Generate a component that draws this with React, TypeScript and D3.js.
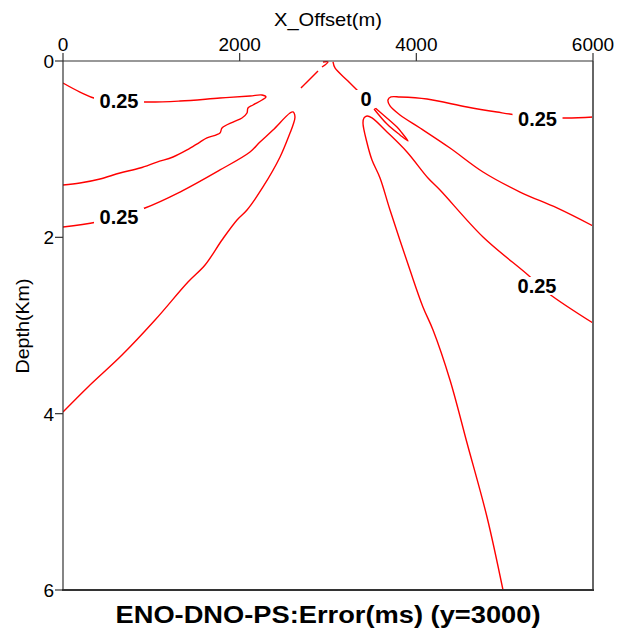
import React from "react";
import * as d3 from "d3";

// ---- data (x offset in m, depth in km) ----
const xTicks = [0, 2000, 4000, 6000];
const yTicks = [0, 2, 4, 6];

const contourUpperLeft: [number, number][] = [
  [0, 0.25], [192, 0.352], [385, 0.431], [928, 0.465], [1325, 0.454], [1777, 0.42],
  [2117, 0.397], [2253, 0.386], [2298, 0.408], [2253, 0.442], [2151, 0.499], [2094, 0.533],
  [2083, 0.59], [2026, 0.646], [1925, 0.692], [1800, 0.76], [1777, 0.817], [1630, 0.873],
  [1551, 0.919], [1404, 1.009], [1245, 1.089], [1064, 1.146], [872, 1.214], [645, 1.27],
  [419, 1.338], [192, 1.384], [0, 1.406],
];

const contourLowerLeft: [number, number][] = [
  [0, 1.883], [385, 1.826], [928, 1.667], [1325, 1.486], [1777, 1.236], [2117, 1.032],
  [2230, 0.919], [2377, 0.783], [2570, 0.59], [2604, 0.578], [2626, 0.635], [2604, 0.726],
  [2570, 0.817], [2457, 1.089], [2264, 1.429], [2083, 1.69], [1970, 1.803], [1800, 2.03],
  [1608, 2.314], [1415, 2.507], [1042, 2.938], [668, 3.335], [283, 3.697], [0, 3.981],
];

const contourZeroA: [number, number][] = [[2943, 0.011], [3000, 0.011], [2932, 0.068]];
const contourZeroB: [number, number][] = [[2887, 0.113], [2694, 0.306]];
const contourZeroC: [number, number][] = [
  [3057, 0.011], [3079, 0.079], [3226, 0.227], [3362, 0.363], [3498, 0.499], [3781, 0.749],
  [3838, 0.817], [3906, 0.907], [3815, 0.839], [3668, 0.715], [3521, 0.544],
];

const contourRightInner: [number, number][] = [
  [4981, 6.0], [4800, 5.172], [4574, 4.333], [4381, 3.618], [4189, 3.051], [4075, 2.79],
  [3928, 2.371], [3702, 1.69], [3589, 1.327], [3498, 1.123], [3442, 0.93], [3396, 0.703],
  [3408, 0.646], [3442, 0.624], [3498, 0.646], [3668, 0.805], [3894, 1.032], [4132, 1.327],
  [4268, 1.463], [4755, 1.996], [5264, 2.427], [5491, 2.631], [6000, 2.972],
];

const contourRightOuter: [number, number][] = [
  [6000, 0.635], [5660, 0.646], [5140, 0.612], [4913, 0.579], [4574, 0.522], [4121, 0.431],
  [3815, 0.408], [3713, 0.408], [3679, 0.442], [3702, 0.51], [3815, 0.612], [4042, 0.76],
  [4381, 0.987], [4755, 1.259], [5174, 1.486], [5592, 1.667], [6000, 1.871],
];

const contours = [
  contourUpperLeft, contourLowerLeft, contourZeroA, contourZeroB, contourZeroC,
  contourRightInner, contourRightOuter,
];

const labelTexts = ["0.25", "0.25", "0", "0.25", "0.25"];
const labelX = [634, 634, 3430, 5372, 5366];
const labelDepth = [0.456, 1.764, 0.431, 0.663, 2.552];

const W = 627;
const H = 633;
const FONT = "'Liberation Sans', Arial, Helvetica, sans-serif";

export default function App() {
  const x = d3.scaleLinear().domain([0, 6000]).range([63, 593]);
  const y = d3.scaleLinear().domain([0, 6]).range([61, 590]);
  const line = d3
    .line<[number, number]>()
    .x((d) => x(d[0]))
    .y((d) => y(d[1]))
    .curve(d3.curveCatmullRom.alpha(0.5));

  const labelFs = 20;
  return (
    <svg
      width={W}
      height={H}
      style={{ position: "absolute", left: 0, top: 0, background: "#fff" }}
      fontFamily={FONT}
    >
      <rect x={0} y={0} width={W} height={H} fill="#fff" />
      <defs>
        <clipPath id="plotclip">
          <rect x={63} y={61} width={530} height={529} />
        </clipPath>
      </defs>
      <g clipPath="url(#plotclip)">
        {contours.map((c, i) => (
          <path key={i} d={line(c) || ""} fill="none" stroke="#ff0000" strokeWidth={1.4} />
        ))}
      </g>
      {labelTexts.map((t, i) => {
        const w = t.length === 1 ? 14 : 44;
        const cx = x(labelX[i]);
        const cy = y(labelDepth[i]);
        return (
          <g key={"l" + i}>
            <rect x={cx - w / 2 - 3} y={cy - 9} width={w + 6} height={18} fill="#fff" />
            <text
              x={cx}
              y={cy + 7}
              textAnchor="middle"
              fontSize={labelFs}
              fontWeight="bold"
              fill="#000"
            >
              {t}
            </text>
          </g>
        );
      })}
      {/* frame */}
      <line x1={593} y1={61} x2={593} y2={590} stroke="#666" strokeWidth={2} />
      <line x1={62} y1={590} x2={594} y2={590} stroke="#333" strokeWidth={2} />
      <line x1={63} y1={61} x2={593} y2={61} stroke="#333" strokeWidth={1.2} />
      <line x1={63} y1={61} x2={63} y2={590} stroke="#333" strokeWidth={1.2} />
      {/* top ticks */}
      {xTicks.map((t) => (
        <g key={"xt" + t}>
          <line x1={x(t)} x2={x(t)} y1={61} y2={53} stroke="#333" strokeWidth={1.2} />
          <text x={x(t)} y={51} textAnchor="middle" fontSize={19} fill="#000">
            {t}
          </text>
        </g>
      ))}
      {/* left ticks */}
      {yTicks.map((t) => (
        <g key={"yt" + t}>
          <line x1={55} x2={63} y1={y(t)} y2={y(t)} stroke="#333" strokeWidth={1.2} />
          <text x={54} y={y(t) + 7} textAnchor="end" fontSize={19} fill="#000">
            {t}
          </text>
        </g>
      ))}
      <text
        x={328}
        y={26}
        textAnchor="middle"
        fontSize={19}
        textLength={108}
        lengthAdjust="spacingAndGlyphs"
        fill="#000"
      >
        X_Offset(m)
      </text>
      <text
        transform="translate(29,326) rotate(-90)"
        textAnchor="middle"
        fontSize={19}
        textLength={95}
        lengthAdjust="spacingAndGlyphs"
        fill="#000"
      >
        Depth(Km)
      </text>
      <text
        x={328}
        y={623}
        textAnchor="middle"
        fontSize={24}
        fontWeight="bold"
        textLength={425}
        lengthAdjust="spacingAndGlyphs"
        fill="#000"
      >
        ENO-DNO-PS:Error(ms) (y=3000)
      </text>
    </svg>
  );
}
